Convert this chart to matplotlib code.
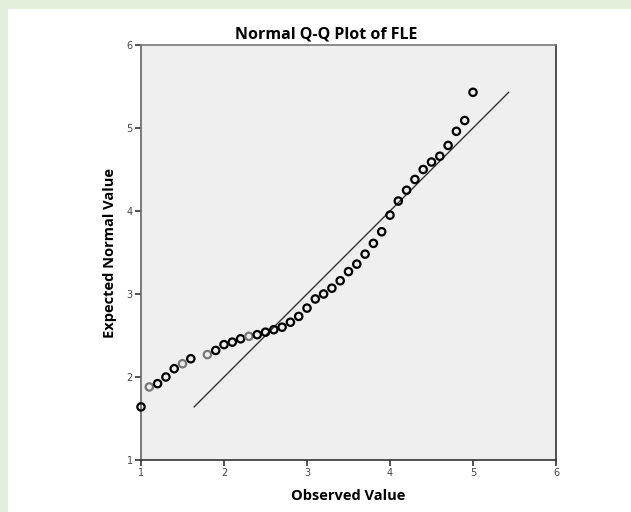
import matplotlib
matplotlib.use("Agg")
import matplotlib.pyplot as plt
from matplotlib.patches import Rectangle

observed = [1.0, 1.1, 1.2, 1.3, 1.4, 1.5, 1.6, 1.8, 1.9, 2.0, 2.1, 2.2, 2.3, 2.4,
            2.5, 2.6, 2.7, 2.8, 2.9, 3.0, 3.1, 3.2, 3.3, 3.4, 3.5, 3.6, 3.7, 3.8,
            3.9, 4.0, 4.1, 4.2, 4.3, 4.4, 4.5, 4.6, 4.7, 4.8, 4.9, 5.0]
expected = [1.64, 1.88, 1.92, 2.00, 2.10, 2.16, 2.22, 2.27, 2.32, 2.39, 2.42, 2.46,
            2.49, 2.51, 2.54, 2.57, 2.60, 2.66, 2.73, 2.83, 2.94, 3.00, 3.07, 3.16,
            3.27, 3.36, 3.48, 3.61, 3.75, 3.95, 4.12, 4.25, 4.38, 4.50, 4.59, 4.66,
            4.79, 4.96, 5.09, 5.43]
ticks = [1, 2, 3, 4, 5, 6]

# points drawn a bit lighter in the original export
faint = {1.1, 1.5, 1.8, 2.3}

fig = plt.figure(figsize=(6.31, 5.12), dpi=100)
fig.patch.set_facecolor("white")
green = "#e2efda"
fig.patches.append(Rectangle((0, 1 - 9 / 512), 1, 9 / 512, transform=fig.transFigure,
                             facecolor=green, edgecolor="none", zorder=0))
fig.patches.append(Rectangle((0, 0), 8 / 631, 1, transform=fig.transFigure,
                             facecolor=green, edgecolor="none", zorder=0))

ax = fig.add_axes([141 / 631, 52 / 512, 415 / 631, 415 / 512])
ax.set_facecolor("#efefef")

# reference line y = x across the range of expected values
lo, hi = min(expected), max(expected)
ax.plot([lo, hi], [lo, hi], color="#333333", lw=1.0, zorder=2)

edge = ["#777777" if x in faint else "black" for x in observed]
ax.scatter(observed, expected, s=28, facecolors="none", edgecolors=edge,
           linewidths=1.6, zorder=3, clip_on=False)

ax.set_xlim(1, 6)
ax.set_ylim(1, 6)
ax.set_xticks(ticks)
ax.set_yticks(ticks)
ax.tick_params(direction="out", length=4, width=1.2, color="#333333",
               labelsize=7, labelcolor="#444444", pad=2)
for side in ["left", "bottom", "right", "top"]:
    ax.spines[side].set_linewidth(1.2)
ax.spines["left"].set_color("#666666")
ax.spines["top"].set_color("#777777")
ax.spines["bottom"].set_color("#333333")
ax.spines["right"].set_color("#333333")

font = ["Open Sans", "DejaVu Sans"]
ax.set_xlabel("Observed Value", fontsize=10.5, fontweight="bold", family=font, labelpad=8)
ax.set_ylabel("Expected Normal Value", fontsize=10.5, fontweight="bold", family=font,
              labelpad=7)
# title sits a little left of the plot centre in the original
ax.set_title("Normal Q-Q Plot of FLE", fontsize=11.5, fontweight="bold", family=font,
             pad=5, x=0.446)

fig.savefig("out.png", dpi=100)
